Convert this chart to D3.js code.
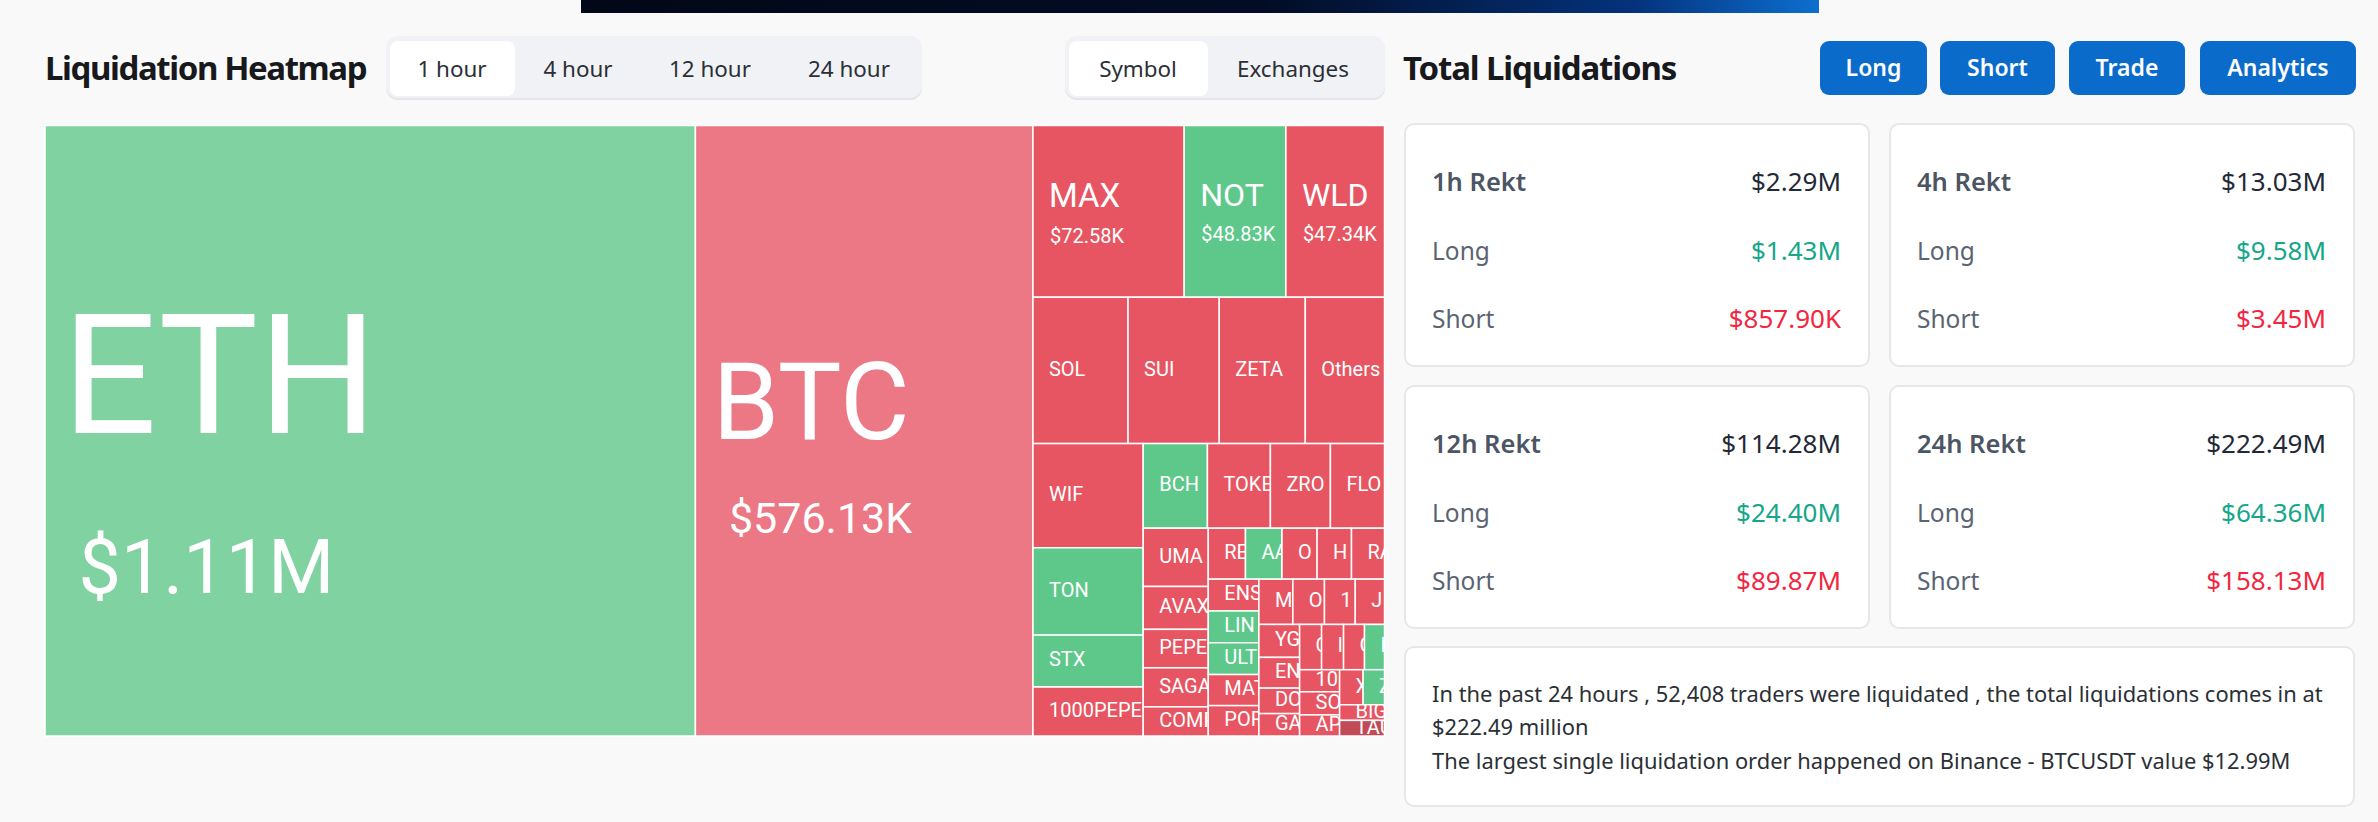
<!DOCTYPE html>
<html>
<head>
<meta charset="utf-8">
<title>Liquidation Heatmap</title>
<script src="https://cdn.jsdelivr.net/npm/d3@7"></script>
<style>
  html, body { margin: 0; padding: 0; background: #f9f9fa; overflow: hidden; }
  svg { display: block; }
  text { font-family: "Noto Sans", sans-serif; }
  .cell-label { font-family: Roboto, sans-serif; fill: #fff; }
</style>
</head>
<body>
<svg width="2378" height="822"></svg>
<script>
// Heatmap values, in thousands of dollars, one pair of arrays per nesting level
const bigNames = ["ETH", "BTC"];
const bigValues = [1110, 576.13];
const row1Names = ["MAX", "NOT", "WLD"];
const row1Values = [72.58, 48.83, 47.34];
const row2Names = ["SOL", "SUI", "ZETA", "Others"];
const row2Values = [38.9, 37.3, 35.2, 32.4];
const colANames = ["WIF", "TON", "STX", "1000PEPE"];
const colAValues = [32.1, 26.9, 16.0, 15.1];
const row3Names = ["BCH", "TOKE", "ZRO", "FLO"];
const row3Values = [15.2, 14.9, 14.2, 12.8];
const colBNames = ["UMA", "AVAX", "PEPE", "SAGA", "COMP"];
const colBValues = [10.6, 7.8, 7.0, 7.1, 5.3];
const row4Names = ["RE", "AA", "O", "H", "RA"];
const row4Values = [5.3, 5.2, 5.0, 4.9, 4.7];
const colCNames = ["ENS", "LIN", "ULT", "MAT", "POR"];
const colCValues = [4.5, 4.5, 4.5, 4.4, 4.3];
const row5Names = ["M", "O", "1", "J"];
const row5Values = [4.3, 4.0, 3.9, 3.7];
const colDNames = ["YG", "EN", "DO", "GA"];
const colDValues = [3.75, 3.5, 2.9, 2.55];
const row6Names = ["C", "I", "G", "E"];
const row6Values = [2.78, 2.78, 2.65, 2.53];
const colENames = ["10", "SO", "AP"];
const colEValues = [2.47, 2.58, 2.36];
const row7Names = ["X", "Z"];
const row7Values = [2.3, 2.1];
const lastNames = ["BIG", "TAU"];
const lastValues = [1.96, 1.96];

const greenSymbols = ["ETH", "NOT", "TON", "STX", "BCH", "AA", "LIN", "ULT", "E", "Z"];
const labelledSymbols = ["ETH", "BTC", "MAX", "NOT", "WLD"];

const timeTabs = ["1 hour", "4 hour", "12 hour", "24 hour"];
const viewTabs = ["Symbol", "Exchanges"];
const actionButtons = ["Long", "Short", "Trade", "Analytics"];

const rektLabels = ["1h Rekt", "4h Rekt", "12h Rekt", "24h Rekt"];
const rektTotals = ["$2.29M", "$13.03M", "$114.28M", "$222.49M"];
const rektLongs = ["$1.43M", "$9.58M", "$24.40M", "$64.36M"];
const rektShorts = ["$857.90K", "$3.45M", "$89.87M", "$158.13M"];

const summaryLines = [
  "In the past 24 hours , 52,408 traders were liquidated , the total liquidations comes in at",
  "$222.49 million",
  "The largest single liquidation order happened on Binance - BTCUSDT value $12.99M"
];

const money = v => "$" + (v >= 1000 ? (v / 1000).toFixed(2) + "M" : v.toFixed(2) + "K");

function leaves(names, values) {
  return names.map((name, i) => ({ name: name, value: values[i] }));
}

// Nested so slice-and-dice alternates rows and columns the way the heatmap does
const tree = {
  children: [
    ...leaves(bigNames, bigValues),
    { children: [
      { children: leaves(row1Names, row1Values) },
      { children: leaves(row2Names, row2Values) },
      { children: [
        { children: leaves(colANames, colAValues) },
        { children: [
          { children: leaves(row3Names, row3Values) },
          { children: [
            { children: leaves(colBNames, colBValues) },
            { children: [
              { children: leaves(row4Names, row4Values) },
              { children: [
                { children: leaves(colCNames, colCValues) },
                { children: [
                  { children: leaves(row5Names, row5Values) },
                  { children: [
                    { children: leaves(colDNames, colDValues) },
                    { children: [
                      { children: leaves(row6Names, row6Values) },
                      { children: [
                        { children: leaves(colENames, colEValues) },
                        { children: [
                          { children: leaves(row7Names, row7Values) },
                          ...leaves(lastNames, lastValues)
                        ] }
                      ] }
                    ] }
                  ] }
                ] }
              ] }
            ] }
          ] }
        ] }
      ] }
    ] }
  ]
};

const svg = d3.select("svg");

svg.append("rect")
  .attr("x", 581).attr("y", 0).attr("width", 1238).attr("height", 13)
  .attr("fill", "url(#banner)");
const banner = svg.append("defs").append("linearGradient").attr("id", "banner");
banner.append("stop").attr("offset", "0%").attr("stop-color", "#020818");
banner.append("stop").attr("offset", "55%").attr("stop-color", "#020c24");
banner.append("stop").attr("offset", "85%").attr("stop-color", "#04327c");
banner.append("stop").attr("offset", "100%").attr("stop-color", "#0d6fd0");

// --- HEADERS ---
svg.append("text").attr("x", 45).attr("y", 80)
  .attr("font-size", 33).attr("font-weight", 700).attr("letter-spacing", -1.4).attr("fill", "#18191c")
  .text("Liquidation Heatmap");
svg.append("text").attr("x", 1403).attr("y", 80)
  .attr("font-size", 33).attr("font-weight", 700).attr("letter-spacing", -1.15).attr("fill", "#18191c")
  .text("Total Liquidations");

function drawTabs(x, width, tabs, tabCenters, activeWidth) {
  const g = svg.append("g");
  g.append("rect").attr("x", x).attr("y", 38).attr("width", width).attr("height", 62).attr("rx", 12)
    .attr("fill", "#e4e5e9");
  g.append("rect").attr("x", x).attr("y", 36).attr("width", width).attr("height", 62).attr("rx", 12)
    .attr("fill", "#f1f2f6");
  g.append("rect").attr("x", x + 4).attr("y", 41).attr("width", activeWidth).attr("height", 55).attr("rx", 8)
    .attr("fill", "#fff");
  g.selectAll("text").data(tabs).join("text")
    .attr("x", (d, i) => tabCenters[i]).attr("y", 77)
    .attr("text-anchor", "middle").attr("font-size", 22.4).attr("fill", "#2b2f36")
    .text(d => d);
}
drawTabs(386, 536, timeTabs, [452, 578, 710, 849], 125);
drawTabs(1065, 320, viewTabs, [1138, 1293], 139);

// --- ACTION BUTTONS ---
const buttonX = d3.scaleOrdinal().domain(actionButtons).range([1820, 1940, 2069, 2200]);
const buttonW = d3.scaleOrdinal().domain(actionButtons).range([107, 115, 116, 156]);
const buttons = svg.append("g").selectAll("g").data(actionButtons).join("g");
buttons.append("rect")
  .attr("x", d => buttonX(d)).attr("y", 41).attr("width", d => buttonW(d)).attr("height", 54).attr("rx", 9)
  .attr("fill", "#0b6bcb");
buttons.append("text")
  .attr("x", d => buttonX(d) + buttonW(d) / 2).attr("y", 76)
  .attr("text-anchor", "middle").attr("font-size", 23).attr("font-weight", 600).attr("fill", "#fff")
  .text(d => d);

// --- TREEMAP ---
const chartX = 45, chartY = 125.5, chartW = 1339.5, chartH = 610.5;

const root = d3.hierarchy(tree).sum(d => d.value || 0);
d3.treemap().tile(d3.treemapSliceDice).size([chartW, chartH]).round(false)(root);

// label sizing follows the cell value
const nameSize = d3.scaleLinear().domain([39, 47, 73, 576, 1110]).range([20, 32, 33, 107, 167]).clamp(true);
const valueSize = d3.scaleLinear().domain([47, 73, 576, 1110]).range([20, 20, 43, 75.5]);
const nameShift = d3.scaleLinear().domain([47, 73, 576, 1110]).range([-5, -4.5, 8, 2]);
const lineGap = d3.scaleLinear().domain([47, 73, 576, 1110]).range([35, 36, 94, 160]);

function fillFor(d) {
  if (d.data.name === "TAU") return "#c04a55";
  const green = greenSymbols.includes(d.data.name);
  if (d.value > 500) return green ? "#80d3a1" : "#ec7885";
  return green ? "#5ec88b" : "#e65561";
}

function nameY(d) {
  const cy = (d.y0 + d.y1) / 2;
  if (labelledSymbols.includes(d.data.name)) return cy + nameShift(d.value);
  return cy + nameSize(d.value) * 0.27;
}

const map = svg.append("g").attr("transform", `translate(${chartX},${chartY})`);
const defs = svg.select("defs");
const cells = map.selectAll("g").data(root.leaves()).join("g");

cells.each(function(d, i) {
  defs.append("clipPath").attr("id", "clip" + i).append("rect")
    .attr("x", d.x0).attr("y", d.y0).attr("width", d.x1 - d.x0).attr("height", d.y1 - d.y0);
});
cells.append("rect")
  .attr("x", d => d.x0).attr("y", d => d.y0)
  .attr("width", d => d.x1 - d.x0).attr("height", d => d.y1 - d.y0)
  .attr("fill", fillFor).attr("stroke", "#fff").attr("stroke-width", 1.5);

const labels = cells.append("g").attr("clip-path", (d, i) => `url(#clip${i})`);
labels.append("text").attr("class", "cell-label")
  .attr("x", d => d.x0 + (d.value > 500 ? 17 : 16))
  .attr("y", nameY)
  .attr("font-size", d => nameSize(d.value))
  .text(d => d.data.name);
labels.filter(d => labelledSymbols.includes(d.data.name)).append("text").attr("class", "cell-label")
  .attr("x", d => d.x0 + (d.value > 500 ? 33.5 : 17))
  .attr("y", d => nameY(d) + lineGap(d.value))
  .attr("font-size", d => valueSize(d.value))
  .text(d => money(d.value));

// --- REKT CARDS ---
const cardX = d3.scaleOrdinal().domain([0, 1]).range([1405, 1890]);
const cardY = d3.scaleOrdinal().domain([0, 1]).range([124, 386]);
const rowOffsets = [67, 136, 204];
const cards = svg.append("g").selectAll("g").data(rektLabels).join("g")
  .attr("transform", (d, i) => `translate(${cardX(i % 2)},${cardY(Math.floor(i / 2))})`);
cards.append("rect")
  .attr("width", 464).attr("height", 242).attr("rx", 9)
  .attr("fill", "#fff").attr("stroke", "#e6e7e9").attr("stroke-width", 2);
cards.each(function(d, i) {
  const card = d3.select(this);
  const rows = [
    { label: d, amount: rektTotals[i], labelColor: "#4b5563", color: "#1f2937", weight: 600, size: 25.5 },
    { label: "Long", amount: rektLongs[i], labelColor: "#5b6472", color: "#16a68a", weight: 400, size: 24.5 },
    { label: "Short", amount: rektShorts[i], labelColor: "#5b6472", color: "#f2273f", weight: 400, size: 24.5 }
  ];
  rows.forEach((r, k) => {
    card.append("text").attr("x", 27).attr("y", rowOffsets[k])
      .attr("font-size", r.size).attr("font-weight", r.weight).attr("fill", r.labelColor)
      .text(r.label);
    card.append("text").attr("x", 436).attr("y", rowOffsets[k])
      .attr("text-anchor", "end").attr("font-size", 26).attr("fill", r.color)
      .text(r.amount);
  });
});

// --- SUMMARY ---
svg.append("rect").attr("x", 1405).attr("y", 647).attr("width", 949).attr("height", 159).attr("rx", 9)
  .attr("fill", "#fff").attr("stroke", "#e6e7e9").attr("stroke-width", 2);
svg.append("g").selectAll("text").data(summaryLines).join("text")
  .attr("x", 1432).attr("y", (d, i) => [702, 735, 769][i])
  .attr("font-size", 21.9).attr("fill", "#2b2f36")
  .text(d => d);
</script>
</body>
</html>
